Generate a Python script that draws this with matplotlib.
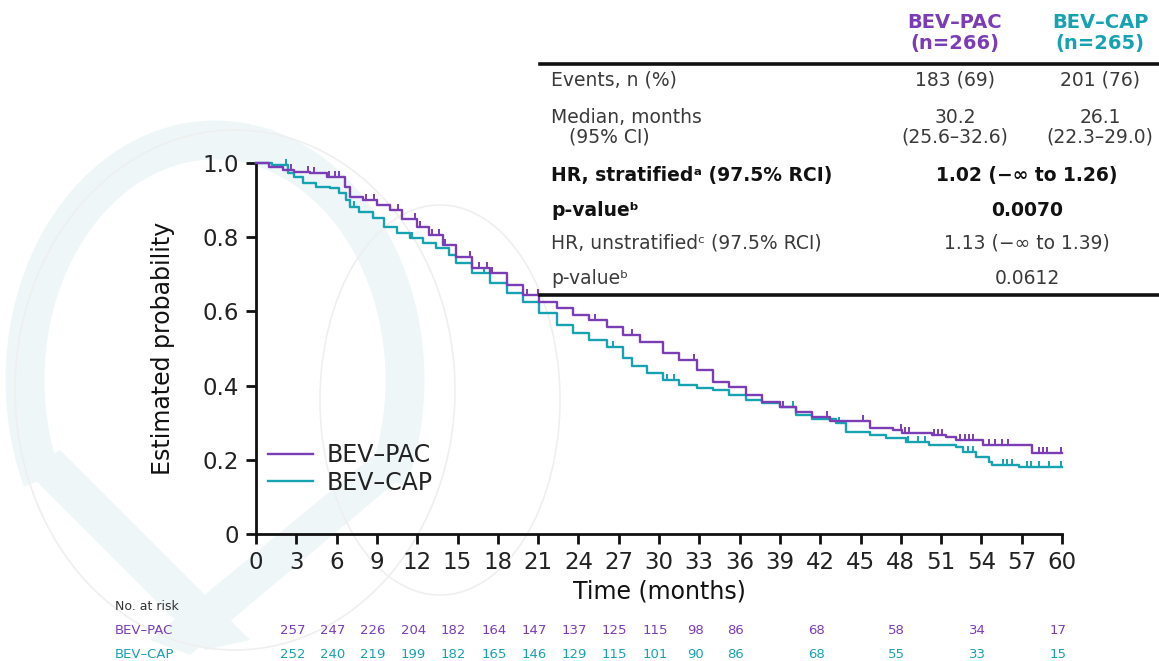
import numpy as np
import matplotlib
matplotlib.use("Agg")
import matplotlib.pyplot as plt
from matplotlib.patches import Ellipse, Arc, Polygon
from matplotlib.lines import Line2D
from matplotlib.path import Path

# ---------------- data ----------------
pac_t = [0, 1.0, 2.0, 2.8, 4.0, 5.3, 6.6, 7.0, 8.0, 9.0, 10.0, 10.9, 12.0, 12.9, 13.9,
         14.9, 16.1, 17.4, 18.7, 19.9, 21.1, 22.4, 23.6, 24.8, 26.1, 27.3, 28.6, 30.3,
         31.5, 32.8, 34.0, 35.2, 36.5, 37.7, 39.0, 40.2, 41.4, 42.7, 45.7, 47.4, 48.1,
         50.3, 51.4, 52.1, 54.1, 57.8, 60.0]
pac_s = [1.0, 0.99, 0.98, 0.976, 0.973, 0.962, 0.935, 0.908, 0.90, 0.887, 0.873, 0.85,
         0.828, 0.806, 0.779, 0.747, 0.717, 0.703, 0.671, 0.644, 0.625, 0.609, 0.590,
         0.577, 0.558, 0.536, 0.518, 0.488, 0.469, 0.442, 0.41, 0.396, 0.375, 0.356,
         0.342, 0.329, 0.315, 0.305, 0.286, 0.280, 0.272, 0.267, 0.261, 0.253, 0.240,
         0.218, 0.218]
cap_t = [0, 1.2, 2.4, 2.8, 3.5, 4.5, 5.5, 6.2, 6.7, 7.0, 7.7, 8.7, 9.5, 10.5, 11.5, 12.4,
         13.4, 14.4, 14.9, 16.1, 17.4, 18.7, 19.9, 21.1, 22.4, 23.6, 24.8, 26.1, 27.3,
         28.0, 29.1, 30.3, 31.5, 32.8, 34.0, 35.2, 36.5, 37.7, 39.0, 40.2, 41.4, 43.2,
         43.9, 45.7, 46.9, 48.4, 50.1, 52.1, 52.6, 53.6, 54.6, 54.8, 56.8, 60.0]
cap_s = [1.0, 0.995, 0.973, 0.962, 0.946, 0.935, 0.933, 0.919, 0.90, 0.881, 0.868, 0.852,
         0.828, 0.811, 0.798, 0.784, 0.771, 0.752, 0.73, 0.703, 0.677, 0.65, 0.625, 0.596,
         0.563, 0.542, 0.523, 0.504, 0.475, 0.452, 0.434, 0.415, 0.402, 0.394, 0.388,
         0.375, 0.361, 0.353, 0.342, 0.321, 0.310, 0.299, 0.275, 0.267, 0.259, 0.248,
         0.240, 0.235, 0.221, 0.208, 0.194, 0.186, 0.181, 0.181]
pac_cens = [2.6, 3.9, 4.3, 5.4, 5.9, 6.2, 8.2, 8.8, 10.6, 11.8, 12.2, 13.1, 13.6, 14.1,
            15.9, 16.6, 17.2, 17.6, 20.2, 21.0, 25.2, 28.0, 32.6, 39.2, 42.5, 45.2, 48.0,
            48.3, 48.6, 50.5, 50.8, 51.1, 52.4, 52.8, 53.1, 53.4, 54.6, 55.0, 55.5, 56.0,
            58.3, 58.6, 58.9, 59.9]
cap_cens = [2.2, 7.3, 11.6, 17.0, 22.4, 26.6, 30.6, 31.1, 40.0, 43.4, 48.5, 49.3, 49.8,
            53.0, 53.4, 55.6, 55.9, 56.3, 57.4, 57.7, 58.3, 59.0, 59.9]

risk_times = [3, 6, 9, 12, 15, 18, 21, 24, 27, 30, 33, 36, 42, 48, 54, 60]
risk_pac = [257, 247, 226, 204, 182, 164, 147, 137, 125, 115, 98, 86, 68, 58, 34, 17]
risk_cap = [252, 240, 219, 199, 182, 165, 146, 129, 115, 101, 90, 86, 68, 55, 33, 15]

series_names = ["BEV–PAC", "BEV–CAP"]
n_labels = ["(n=266)", "(n=265)"]
x_ticks = list(range(0, 61, 3))
y_ticks = [0, 0.2, 0.4, 0.6, 0.8, 1.0]
y_ticklabels = ["0", "0.2", "0.4", "0.6", "0.8", "1.0"]

table_rows = [
    ("Events, n (%)", "183 (69)", "201 (76)", False),
    ("Median, months\n   (95% CI)", "30.2\n(25.6–32.6)", "26.1\n(22.3–29.0)", False),
    ("HR, stratified\u1d43 (97.5% RCI)", "1.02 (−∞ to 1.26)", None, True),
    ("p-value\u1d47", "0.0070", None, True),
    ("HR, unstratified\u1d9c (97.5% RCI)", "1.13 (−∞ to 1.39)", None, False),
    ("p-value\u1d47", "0.0612", None, False),
]
row_y = [80, 127, 176, 210, 243, 279]

PURPLE = "#7B3DB6"
TEAL = "#17A2B2"
W, H = 1159, 661

def fx(x):
    return x / W

def fy(y):
    return 1 - y / H

fig = plt.figure(figsize=(W / 100, H / 100), dpi=100)

# ------------- faint background watermark -------------
bg = fig.add_axes([0, 0, 1, 1], zorder=-5)
bg.set_xlim(0, W)
bg.set_ylim(H, 0)
bg.axis("off")
band = "#EEF6F7"
bg.add_patch(Arc((215, 380), 380, 480, theta1=150, theta2=30, lw=28, color=band))
bg.add_patch(Polygon([[25, 470], [60, 450], [250, 640], [205, 650]], closed=True, color=band, lw=0))
bg.add_patch(Polygon([[380, 450], [410, 470], [190, 655], [150, 640]], closed=True, color=band, lw=0))
grey = "#EFEFEF"
bg.add_patch(Ellipse((440, 400), 240, 390, fill=False, ec=grey, lw=1.2))
bg.add_patch(Ellipse((235, 390), 440, 520, fill=False, ec=grey, lw=1.2))

# ------------- main axes -------------
ax = fig.add_axes([fx(256), fy(534), fx(1062) - fx(256), fy(163) - fy(534)])
ax.patch.set_alpha(0)
ax.step(pac_t, pac_s, where="post", color=PURPLE, lw=1.7, clip_on=False, label=series_names[0], zorder=3)
ax.step(cap_t, cap_s, where="post", color=TEAL, lw=1.7, clip_on=False, label=series_names[1], zorder=2)

tick_marker = Path([(0, 0), (0, 1)])

def surv_at(ts, ss, c):
    idx = np.searchsorted(np.asarray(ts), np.asarray(c), side="right") - 1
    return np.asarray(ss)[idx]

ax.plot(pac_cens, surv_at(pac_t, pac_s, pac_cens), ls="none", marker=tick_marker,
        ms=9, mew=1.4, mec=PURPLE, clip_on=False, zorder=3)
ax.plot(cap_cens, surv_at(cap_t, cap_s, cap_cens), ls="none", marker=tick_marker,
        ms=9, mew=1.4, mec=TEAL, clip_on=False, zorder=2)

ax.set_xlim(0, 60)
ax.set_ylim(0, 1.0)
ax.set_xticks(x_ticks)
ax.set_xticklabels([str(v) for v in x_ticks])
ax.set_yticks(y_ticks)
ax.set_yticklabels(y_ticklabels)
for s in ["top", "right"]:
    ax.spines[s].set_visible(False)
for s in ["left", "bottom"]:
    ax.spines[s].set_linewidth(2.0)
    ax.spines[s].set_color("#111111")
ax.tick_params(axis="both", direction="out", length=7, width=2, color="#111111",
               labelsize=16.5, labelcolor="#222222", pad=5)
ax.set_xlabel("Time (months)", fontsize=17, color="#111111", labelpad=4)
ax.set_ylabel("Estimated probability", fontsize=17, color="#111111", labelpad=20)

leg = ax.legend(loc="upper left", bbox_to_anchor=(fx(268), fy(443)), bbox_transform=fig.transFigure,
                frameon=False, fontsize=17, handlelength=1.9, handletextpad=0.6,
                labelspacing=0.15, borderaxespad=0, borderpad=0)
for t in leg.get_texts():
    t.set_color("#222222")

# ------------- number at risk -------------
fig.text(fx(115), fy(607), "No. at risk", fontsize=9, color="#333333", va="center", ha="left")
fig.text(fx(115), fy(630), series_names[0], fontsize=9.5, color=PURPLE, va="center", ha="left")
fig.text(fx(115), fy(654), series_names[1], fontsize=9.5, color=TEAL, va="center", ha="left")
for t, a, b in zip(risk_times, risk_pac, risk_cap):
    xp = ax.transData.transform((t, 0))[0]
    xf = fig.transFigure.inverted().transform((xp - 4, 0))[0]
    fig.text(xf, fy(630), str(a), fontsize=9.5, color=PURPLE, va="center", ha="center")
    fig.text(xf, fy(654), str(b), fontsize=9.5, color=TEAL, va="center", ha="center")

# ------------- summary table -------------
TFS = 13.5
col1, col2, colm = 955, 1100, 1027
fig.text(fx(col1), fy(33), series_names[0] + "\n" + n_labels[0], fontsize=14, fontweight="bold",
         color=PURPLE, ha="center", va="center", linespacing=1.1)
fig.text(fx(col2), fy(33), series_names[1] + "\n" + n_labels[1], fontsize=14, fontweight="bold",
         color=TEAL, ha="center", va="center", linespacing=1.1)
fig.add_artist(Line2D([fx(540), fx(1159)], [fy(64), fy(64)], color="#111111", lw=2.6))
fig.add_artist(Line2D([fx(540), fx(1159)], [fy(295), fy(295)], color="#111111", lw=2.6))
for (lab, v1, v2, bold), yy in zip(table_rows, row_y):
    w = "bold" if bold else "normal"
    c = "#111111" if bold else "#3a3a3a"
    fig.text(fx(551), fy(yy), lab, fontsize=TFS, fontweight=w, color=c, ha="left", va="center",
             linespacing=1.05)
    if v2 is None:
        fig.text(fx(colm), fy(yy), v1, fontsize=TFS, fontweight=w, color=c, ha="center", va="center")
    else:
        fig.text(fx(col1), fy(yy), v1, fontsize=TFS, fontweight=w, color=c, ha="center", va="center",
                 linespacing=1.05)
        fig.text(fx(col2), fy(yy), v2, fontsize=TFS, fontweight=w, color=c, ha="center", va="center",
                 linespacing=1.05)

fig.savefig("out.png", dpi=100)
